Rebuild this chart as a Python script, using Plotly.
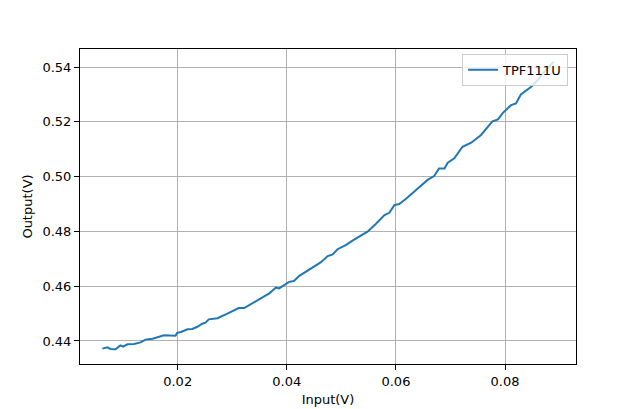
import plotly.graph_objects as go

series_name = "TPF111U"
input_v = [0.0062, 0.0071, 0.0077, 0.0086, 0.0095, 0.0100, 0.0108, 0.0120, 0.0132, 0.0141,
           0.0154, 0.0166, 0.0175, 0.0196, 0.0199, 0.0206, 0.0218, 0.0227, 0.0236, 0.0245,
           0.0251, 0.0257, 0.0273, 0.0291, 0.0306, 0.0312, 0.0322, 0.0340, 0.0355, 0.0368,
           0.0380, 0.0386, 0.0404, 0.0413, 0.0423, 0.0438, 0.0450, 0.0462, 0.0475, 0.0484,
           0.0493, 0.0508, 0.0524, 0.0539, 0.0548, 0.0563, 0.0579, 0.0588, 0.0597, 0.0606,
           0.0618, 0.0640, 0.0658, 0.0670, 0.0679, 0.0689, 0.0695, 0.0707, 0.0722, 0.0738,
           0.0756, 0.0771, 0.0777, 0.0787, 0.0796, 0.0811, 0.0820, 0.0829, 0.0848, 0.0857,
           0.0873, 0.0889]
output_v = [0.4372, 0.4377, 0.4371, 0.4370, 0.4384, 0.4379, 0.4388, 0.4389, 0.4395, 0.4405,
            0.4408, 0.4414, 0.4421, 0.4419, 0.4430, 0.4433, 0.4443, 0.4444, 0.4452, 0.4463,
            0.4467, 0.4479, 0.4483, 0.4500, 0.4513, 0.4520, 0.4520, 0.4541, 0.4556, 0.4574,
            0.4595, 0.4592, 0.4616, 0.4619, 0.4638, 0.4657, 0.4674, 0.4687, 0.4710, 0.4716,
            0.4735, 0.4750, 0.4771, 0.4787, 0.4799, 0.4827, 0.4860, 0.4868, 0.4896, 0.4900,
            0.4918, 0.4957, 0.4988, 0.5002, 0.5030, 0.5030, 0.5051, 0.5067, 0.5109, 0.5124,
            0.5152, 0.5188, 0.5202, 0.5209, 0.5233, 0.5261, 0.5267, 0.5300, 0.5328, 0.5346,
            0.5385, 0.5419]
x_ticks = [0.02, 0.04, 0.06, 0.08]
y_ticks = [0.44, 0.46, 0.48, 0.50, 0.52, 0.54]
x_labels = ["0.02", "0.04", "0.06", "0.08"]
y_labels = ["0.44", "0.46", "0.48", "0.50", "0.52", "0.54"]

fig = go.Figure()
fig.add_trace(go.Scatter(x=input_v, y=output_v, mode="lines", name=series_name,
                         line=dict(color="#1f77b4", width=2)))

axis_common = dict(showline=True, linecolor="black", linewidth=1, mirror=True,
                   ticks="outside", ticklen=5, tickcolor="black", tickwidth=1,
                   showgrid=True, gridcolor="#b0b0b0", gridwidth=1, zeroline=False,
                   automargin=False,
                   tickfont=dict(family="DejaVu Sans", size=13, color="black"))

fig.update_layout(
    width=640, height=409,
    margin=dict(l=72, r=72, t=41, b=53, autoexpand=False),
    paper_bgcolor="white", plot_bgcolor="white",
    font=dict(family="DejaVu Sans", size=13, color="black"),
    showlegend=True,
    legend=dict(x=0.984, y=0.985, xanchor="right", yanchor="top",
                bgcolor="rgba(255,255,255,0.8)", bordercolor="#cccccc", borderwidth=1,
                font=dict(family="DejaVu Sans", size=13)),
    xaxis=dict(range=[0.0021, 0.0930], tickvals=x_ticks, ticktext=x_labels,
               title=dict(text="Input(V)", standoff=7, font=dict(size=13)), **axis_common),
    yaxis=dict(range=[0.4316, 0.5466], tickvals=y_ticks, ticktext=y_labels,
               title=dict(text="Output(V)", standoff=6, font=dict(size=13)), **axis_common),
)

fig.write_html("out.html")
